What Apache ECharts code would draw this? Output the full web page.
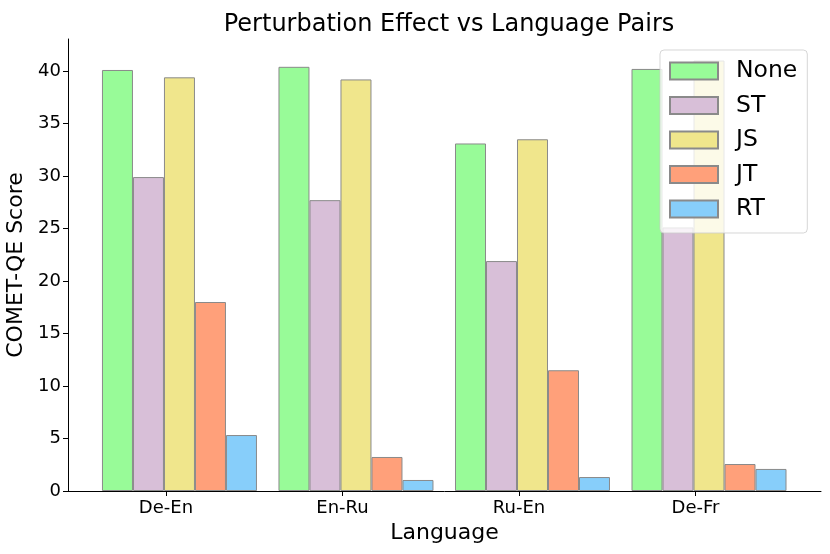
<!DOCTYPE html>
<html>
<head>
<meta charset="utf-8">
<script src="https://cdn.jsdelivr.net/npm/echarts@6/dist/echarts.min.js"></script>
<style>html,body{margin:0;padding:0;background:#fff}#c{width:830px;height:554px}</style>
</head>
<body>
<div id="c"></div>
<script>
const categories = ['De-En', 'En-Ru', 'Ru-En', 'De-Fr'];
const seriesNames = ['None', 'ST', 'JS', 'JT', 'RT'];
const noneVals = [40.1, 40.4, 33.1, 40.2];
const stVals = [29.9, 27.7, 21.9, 25.1];
const jsVals = [39.4, 39.2, 33.5, 41.0];
const jtVals = [18.0, 3.24, 11.5, 2.57];
const rtVals = [5.33, 1.05, 1.33, 2.1];
const yTicks = [0, 5, 10, 15, 20, 25, 30, 35, 40];

const allVals = [noneVals, stVals, jsVals, jtVals, rtVals];
const colors = ['#98FB98', '#D8BFD8', '#F0E68C', '#FFA07A', '#87CEFA'];
const groupShift = 0.0765;
const font = 'DejaVu Sans';

const chart = echarts.init(document.getElementById('c'));
chart.setOption({
  animation: false,
  textStyle: { fontFamily: font },
  title: {
    text: 'Perturbation Effect vs Language Pairs',
    left: 444, top: 8, textAlign: 'center',
    textStyle: { fontFamily: font, fontSize: 24, fontWeight: 'normal', color: '#000' }
  },
  grid: { left: 68, right: 9, top: 39, bottom: 63, containLabel: false, outerBoundsMode: 'none' },
  legend: {
    orient: 'vertical', left: 660, top: 50,
    padding: [9, 10, 12, 9],
    icon: 'rect',
    itemWidth: 48, itemHeight: 17, itemGap: 10.5,
    backgroundColor: 'rgba(255,255,255,0.8)',
    borderColor: 'rgba(204,204,204,0.8)', borderWidth: 1, borderRadius: 4,
    textStyle: { fontFamily: font, fontSize: 23.5, color: '#000', padding: [0, 0, 0, 13] },
    data: seriesNames
  },
  xAxis: {
    type: 'value', min: -0.555, max: 3.711,
    name: 'Language', nameLocation: 'middle', nameGap: 30,
    nameTextStyle: { fontFamily: font, fontSize: 22, color: '#000' },
    axisLine: { show: true, onZero: false, lineStyle: { color: '#000', width: 1 } },
    axisTick: { show: true, length: 5, lineStyle: { color: '#000' }, customValues: [0, 1, 2, 3] },
    axisLabel: { fontFamily: font, fontSize: 18, color: '#000', margin: 8,
      customValues: [0, 1, 2, 3], formatter: v => categories[Math.round(v)] },
    splitLine: { show: false }
  },
  yAxis: {
    type: 'value', min: 0, max: 43.05,
    name: 'COMET-QE Score', nameLocation: 'middle', nameGap: 35,
    nameTextStyle: { fontFamily: font, fontSize: 22, color: '#000' },
    axisLine: { show: true, onZero: false, lineStyle: { color: '#000', width: 1 } },
    axisTick: { show: true, length: 5, lineStyle: { color: '#000' }, customValues: yTicks },
    axisLabel: { fontFamily: font, fontSize: 18, color: '#000', margin: 7, customValues: yTicks },
    splitLine: { show: false }
  },
  series: seriesNames.map((n, k) => ({
    name: n, type: 'bar',
    barWidth: 31, barGap: '0%',
    itemStyle: { color: colors[k], borderColor: '#8a8a8a', borderWidth: 1 },
    data: allVals[k].map((v, i) => [i + groupShift, v])
  }))
});
</script>
</body>
</html>
